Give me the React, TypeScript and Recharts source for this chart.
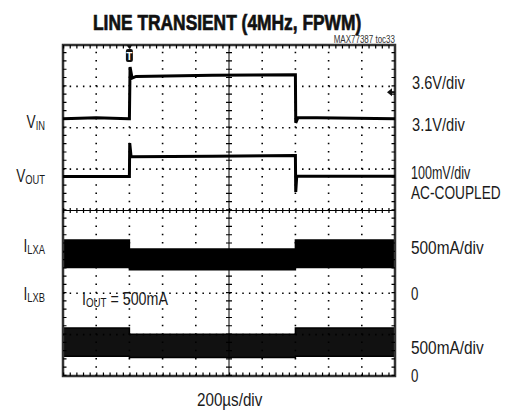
import { ComposedChart, Line, Area, XAxis, YAxis, ReferenceLine, ReferenceArea, ReferenceDot } from 'recharts';

// scope screen: 10 horizontal divisions, 8 vertical divisions (0 = bottom)
const gridX = [1, 2, 3, 4, 6, 7, 8, 9];
const gridY = [1, 2, 3, 5, 6, 7];

// VIN trace (divisions)
const vinTimes = [0, 1, 1.98, 2.0, 2.02, 2.08, 2.2, 4.5, 6.98, 7.0, 7.01, 7.08, 10];
const vinValues = [6.22, 6.24, 6.22, 6.22, 7.47, 7.2, 7.24, 7.27, 7.28, 7.28, 6.12, 6.25, 6.22];

// VOUT trace (divisions)
const voutTimes = [0, 1.99, 2.0, 2.01, 2.05, 4.5, 6.99, 7.0, 7.01, 7.04, 10];
const voutValues = [4.82, 4.82, 4.82, 5.63, 5.3, 5.31, 5.33, 5.33, 4.45, 4.83, 4.83];

// inductor current ripple bands (divisions)
const bandTimes = [0, 2, 2, 7, 7, 10];
const ilxaTop = [3.29, 3.29, 3.07, 3.07, 3.29, 3.29];
const ilxaBottom = [2.62, 2.62, 2.57, 2.57, 2.62, 2.62];
const ilxbTop = [1.16, 1.16, 1.01, 1.01, 1.16, 1.16];
const ilxbBottom = [0.48, 0.48, 0.45, 0.45, 0.48, 0.48];

const vinData = vinTimes.map((t, i) => ({ t, v: vinValues[i] }));
const voutData = voutTimes.map((t, i) => ({ t, v: voutValues[i] }));
const bandData = bandTimes.map((t, i) => ({
  t,
  a: [ilxaBottom[i], ilxaTop[i]],
  b: [ilxbBottom[i], ilxbTop[i]],
}));

const FONT = '"Liberation Sans", Arial, sans-serif';
const ink = '#1a1a1a';

const TriggerMark = (p: any) => {
  const { cx, cy } = p;
  return (
    <g>
      <path d={`M${cx - 3},${cy} L${cx + 3},${cy} L${cx},${cy + 4} Z`} fill="#111" />
      <rect x={cx - 3.5} y={cy + 4} width={7} height={13} rx={2} fill="#111" />
      <text x={cx} y={cy + 14.5} fill="#fff" fontSize={10} fontFamily={FONT} fontWeight="bold" textAnchor="middle">T</text>
    </g>
  );
};

const LevelMark = (p: any) => {
  const { cx, cy } = p;
  return (
    <g>
      <path d={`M${cx - 8},${cy} L${cx - 3},${cy - 4} L${cx - 3},${cy + 4} Z`} fill="#111" />
      <rect x={cx - 4} y={cy - 1} width={4} height={2} fill="#111" />
    </g>
  );
};

// condensed text: scaled horizontally around its anchor point
const Txt = ({ x, y, sx = 0.74, size = 19, anchor = 'start', children, ...rest }: any) => (
  <text
    transform={`translate(${x},${y}) scale(${sx},1)`}
    textAnchor={anchor}
    fontFamily={FONT}
    fontSize={size}
    fill={ink}
    {...rest}
  >
    {children}
  </text>
);

const Sub = ({ x, y, main, sub }: { x: number; y: number; main: string; sub: string }) => (
  <Txt x={x} y={y} anchor="end" sx={0.72}>
    <tspan>{main}</tspan>
    <tspan fontSize={13} dy={2}>{sub}</tspan>
  </Txt>
);

const App = () => {
  return (
    <div style={{ position: 'absolute', left: 0, top: 0, width: 508, height: 411, background: '#fff' }}>
      <ComposedChart width={508} height={411} margin={{ top: 45, right: 113, bottom: 35, left: 63 }}>
        <XAxis type="number" dataKey="t" domain={[0, 10]} allowDataOverflow hide />
        <YAxis type="number" domain={[0, 8]} allowDataOverflow hide />
        <Area data={bandData} dataKey="a" type="linear" fill="#000" fillOpacity={1} stroke="#000" strokeWidth={1.5} isAnimationActive={false} />
        <Area data={bandData} dataKey="b" type="linear" fill="#111" fillOpacity={1} stroke="#000" strokeWidth={1.5} isAnimationActive={false} />
        {gridY.map((y) => (
          <ReferenceLine key={'gy' + y} y={y} stroke="#000" strokeWidth={1.6} strokeDasharray="1.5 5.14" />
        ))}
        {gridX.map((x) => (
          <ReferenceLine key={'gx' + x} x={x} stroke="#000" strokeWidth={1.6} strokeDasharray="1.5 6.775" />
        ))}
        <ReferenceLine y={4} stroke="#000" strokeWidth={1} />
        <ReferenceLine y={4} stroke="#000" strokeWidth={5} strokeDasharray="1.2 5.44" />
        <ReferenceLine x={5} stroke="#000" strokeWidth={1} />
        <ReferenceLine x={5} stroke="#000" strokeWidth={6} strokeDasharray="1.2 7.075" />
        <ReferenceLine y={0} stroke="#000" strokeWidth={7} strokeDasharray="1.2 5.44" ifOverflow="hidden" />
        <ReferenceLine y={8} stroke="#000" strokeWidth={7} strokeDasharray="1.2 5.44" ifOverflow="hidden" />
        <ReferenceLine x={0} stroke="#000" strokeWidth={7} strokeDasharray="1.2 7.075" ifOverflow="hidden" />
        <ReferenceLine x={10} stroke="#000" strokeWidth={7} strokeDasharray="1.2 7.075" ifOverflow="hidden" />
        <Line data={vinData} dataKey="v" type="linear" stroke="#000" strokeWidth={3} dot={false} isAnimationActive={false} />
        <Line data={voutData} dataKey="v" type="linear" stroke="#000" strokeWidth={3} dot={false} isAnimationActive={false} />
        <ReferenceArea x1={0} x2={10} y1={0} y2={8} fill="none" stroke="#333" strokeWidth={2.5} />
        <ReferenceDot x={2} y={8} r={0} shape={TriggerMark} />
        <ReferenceDot x={10} y={6.86} r={0} shape={LevelMark} />
      </ComposedChart>
      <svg width={508} height={411} style={{ position: 'absolute', left: 0, top: 0, pointerEvents: 'none' }}>
        <Txt x={93} y={29.5} sx={0.79} size={22} fontWeight="bold" fill="#111" stroke="#111" strokeWidth={0.7}>
          LINE TRANSIENT (4MHz, FPWM)
        </Txt>
        <Txt x={395} y={42.5} anchor="end" sx={0.8} size={10} fill="#333">
          MAX77387 toc33
        </Txt>
        <Txt x={412} y={89} sx={0.77}>3.6V/div</Txt>
        <Txt x={412} y={131} sx={0.77}>3.1V/div</Txt>
        <Txt x={411} y={179} sx={0.66}>100mV/div</Txt>
        <Txt x={411} y={199} sx={0.72}>AC-COUPLED</Txt>
        <Txt x={411} y={254} sx={0.81}>500mA/div</Txt>
        <Txt x={411} y={300} sx={0.7}>0</Txt>
        <Txt x={411} y={354} sx={0.81}>500mA/div</Txt>
        <Txt x={411} y={382} sx={0.7}>0</Txt>
        <Txt x={197} y={406} sx={0.8}>200µs/div</Txt>
        <Txt x={82} y={305} sx={0.75}>
          <tspan>I</tspan>
          <tspan fontSize={13} dy={2}>OUT</tspan>
          <tspan dy={-2}> = 500mA</tspan>
        </Txt>
        <Sub x={45} y={128} main="V" sub="IN" />
        <Sub x={45} y={182} main="V" sub="OUT" />
        <Sub x={45} y={252} main="I" sub="LXA" />
        <Sub x={45} y={300} main="I" sub="LXB" />
      </svg>
    </div>
  );
};

export default App;
